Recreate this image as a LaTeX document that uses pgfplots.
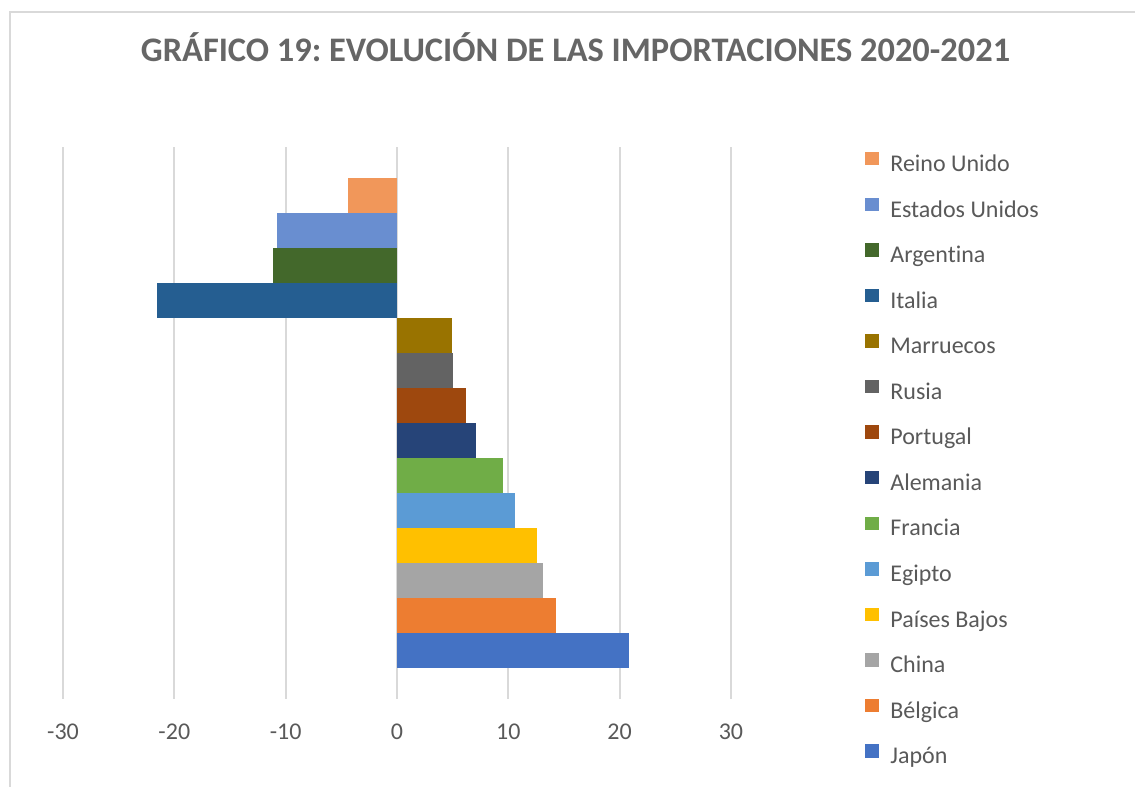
\documentclass[border=0pt]{standalone}
\usepackage{pgfplots}
\pgfplotsset{compat=1.18}
\usepackage{fontspec}
\setmainfont{Carlito}[Ligatures={NoCommon}]
\frenchspacing

\definecolor{txtgray}{HTML}{595959}
\definecolor{titlegray}{HTML}{666666}
\definecolor{gridgray}{HTML}{D9D9D9}
\definecolor{cRU}{HTML}{F1975A}
\definecolor{cEU}{HTML}{698ED0}
\definecolor{cAR}{HTML}{43682B}
\definecolor{cIT}{HTML}{255E91}
\definecolor{cMA}{HTML}{997300}
\definecolor{cRS}{HTML}{636363}
\definecolor{cPT}{HTML}{9E480E}
\definecolor{cAL}{HTML}{264478}
\definecolor{cFR}{HTML}{70AD47}
\definecolor{cEG}{HTML}{5B9BD5}
\definecolor{cPB}{HTML}{FFC000}
\definecolor{cCN}{HTML}{A5A5A5}
\definecolor{cBE}{HTML}{ED7D31}
\definecolor{cJP}{HTML}{4472C4}

\begin{document}
\begin{tikzpicture}
% picture is 1135x787 px, 1 px = 0.5pt
\useasboundingbox (0,0) rectangle (567.5pt,393.5pt);
\draw[gridgray, line width=1pt] (4.75pt,0) -- (4.75pt,387.5pt) -- (567.5pt,387.5pt);
\node[anchor=base, text=titlegray, font=\bfseries\fontsize{17.2}{20}\selectfont]
  at (287.75pt,362.5pt) {GRÁFICO 19: EVOLUCIÓN DE LAS IMPORTACIONES 2020-2021};

\begin{axis}[
    at={(31.5pt,44pt)}, anchor=south west,
    scale only axis,
    width=334pt, height=276pt,
    xbar, bar shift=0pt, bar width=1,
    xmin=-30, xmax=30,
    ymin=-0.384, ymax=15.384,
    xtick={-30,-20,-10,0,10,20,30},
    xticklabels={-30,-20,-10,0,10,20,30},
    ytick=\empty,
    xmajorgrids,
    grid style={draw=gridgray, line width=1pt},
    axis line style={draw=none},
    major tick length=0pt,
    xticklabel style={font=\fontsize{12}{14}\selectfont, text=txtgray,
        inner sep=0pt, anchor=north, text height=7.6pt},
    xticklabel shift=12.4pt,
    legend cell align=left,
    legend image code/.code={\fill[#1] (0pt,0pt) rectangle (7pt,6.7pt);},
    legend style={
        at={(axis description cs:1.2006,0.9915)}, anchor=north west,
        draw=none, fill=none, inner sep=0pt,
        font=\fontsize{12}{14}\selectfont, text=txtgray,
        row sep=10.08pt, column sep=5.5pt,
        nodes={inner sep=0pt, text height=9pt, text depth=3pt},
    },
]
\addplot[fill=cRU, draw=none] coordinates {(-4.4,14)};
\addplot[fill=cEU, draw=none] coordinates {(-10.8,13)};
\addplot[fill=cAR, draw=none] coordinates {(-11.1,12)};
\addplot[fill=cIT, draw=none] coordinates {(-21.6,11)};
\addplot[fill=cMA, draw=none] coordinates {(4.9,10)};
\addplot[fill=cRS, draw=none] coordinates {(5.0,9)};
\addplot[fill=cPT, draw=none] coordinates {(6.2,8)};
\addplot[fill=cAL, draw=none] coordinates {(7.1,7)};
\addplot[fill=cFR, draw=none] coordinates {(9.5,6)};
\addplot[fill=cEG, draw=none] coordinates {(10.6,5)};
\addplot[fill=cPB, draw=none] coordinates {(12.6,4)};
\addplot[fill=cCN, draw=none] coordinates {(13.1,3)};
\addplot[fill=cBE, draw=none] coordinates {(14.3,2)};
\addplot[fill=cJP, draw=none] coordinates {(20.8,1)};
\legend{Reino Unido, Estados Unidos, Argentina, Italia, Marruecos, Rusia,
  Portugal, Alemania, Francia, Egipto, Países Bajos, China, Bélgica, Japón}
\end{axis}
\end{tikzpicture}
\end{document}
